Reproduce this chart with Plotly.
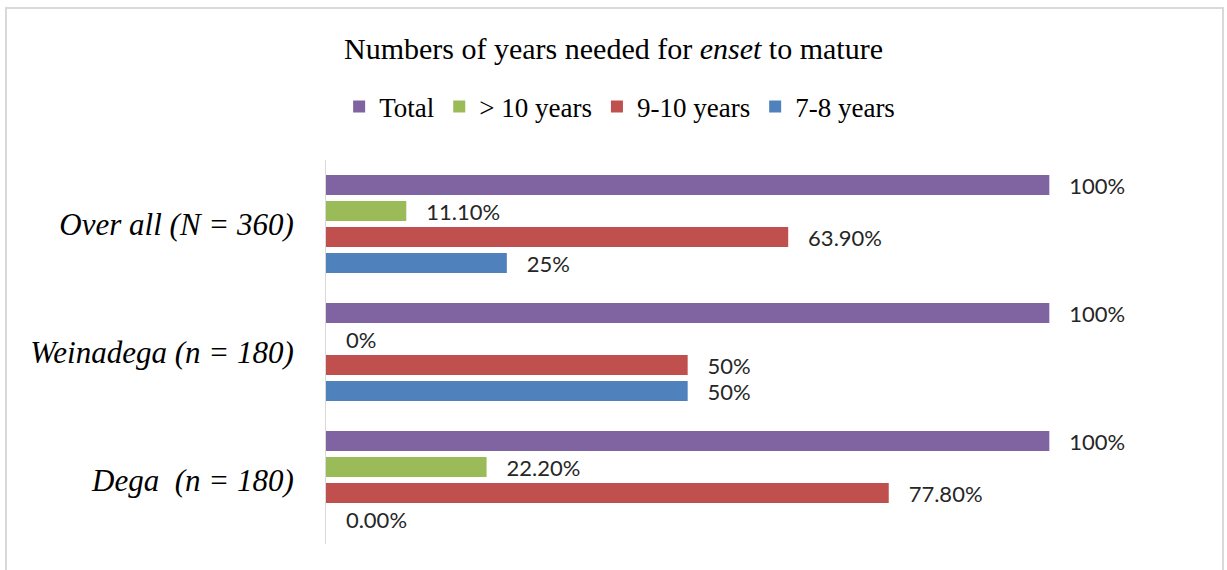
import plotly.graph_objects as go

categories = ["Dega  (n = 180)", "Weinadega (n = 180)", "Over all (N = 360)"]
series_names = ["7-8 years", "9-10 years", "> 10 years", "Total"]
vals_7_8 = [0.0, 0.50, 0.25]
vals_9_10 = [0.778, 0.50, 0.639]
vals_gt10 = [0.222, 0.0, 0.111]
vals_total = [1.0, 1.0, 1.0]
labels_7_8 = ["0.00%", "50%", "25%"]
labels_9_10 = ["77.80%", "50%", "63.90%"]
labels_gt10 = ["22.20%", "0%", "11.10%"]
labels_total = ["100%", "100%", "100%"]
colors = ["#4F81BD", "#C0504D", "#9BBB59", "#8064A2"]

series_vals = [vals_7_8, vals_9_10, vals_gt10, vals_total]
series_labels = [labels_7_8, labels_9_10, labels_gt10, labels_total]

pad = "\u00a0\u00a0\u00a0"
fig = go.Figure()
for name, v, lab, c in zip(series_names, series_vals, series_labels, colors):
    fig.add_trace(go.Bar(
        y=categories, x=v, name=name, orientation="h",
        marker=dict(color=c, line=dict(width=0)),
        text=[pad + t for t in lab], textposition="outside",
        constraintext="none",
        textfont=dict(family="Lato", size=22, color="#262626"),
        cliponaxis=False,
    ))

fig.update_layout(
    width=1227, height=570,
    margin=dict(l=326, r=33, t=160, b=26),
    paper_bgcolor="white", plot_bgcolor="white",
    barmode="group", bargap=0.1875, bargroupgap=0.23,
    title=dict(text="Numbers of years needed for <i>enset</i> to mature",
               font=dict(family="Liberation Serif", size=30, color="#000"),
               x=0.5, xref="container", xanchor="center",
               y=1 - 48 / 570, yref="container", yanchor="middle"),
    legend=dict(orientation="h", traceorder="reversed",
                font=dict(family="Liberation Serif", size=27, color="#000"),
                x=0.505, xref="container", xanchor="center",
                y=1 - 107 / 570, yref="container", yanchor="middle",
                itemwidth=30),
    showlegend=True,
    xaxis=dict(range=[0, 1.2], showgrid=False, zeroline=False,
               showticklabels=False, showline=False, ticks=""),
    yaxis=dict(categoryorder="array", categoryarray=categories,
               showgrid=False, zeroline=False, showline=True,
               linecolor="#d9d9d9", linewidth=1, ticks="",
               ticklabelstandoff=25,
               tickfont=dict(family="Liberation Serif", size=31, color="#000")),
)
fig.update_yaxes(tickfont_style="italic")

fig.add_shape(type="rect", xref="paper", yref="paper",
              x0=(6 - 326) / 868, x1=(1223 - 326) / 868,
              y0=-0.3, y1=(544 - 8) / 384,
              line=dict(color="#d9d9d9", width=2), fillcolor="rgba(0,0,0,0)",
              layer="below")

fig.write_html("out.html")
